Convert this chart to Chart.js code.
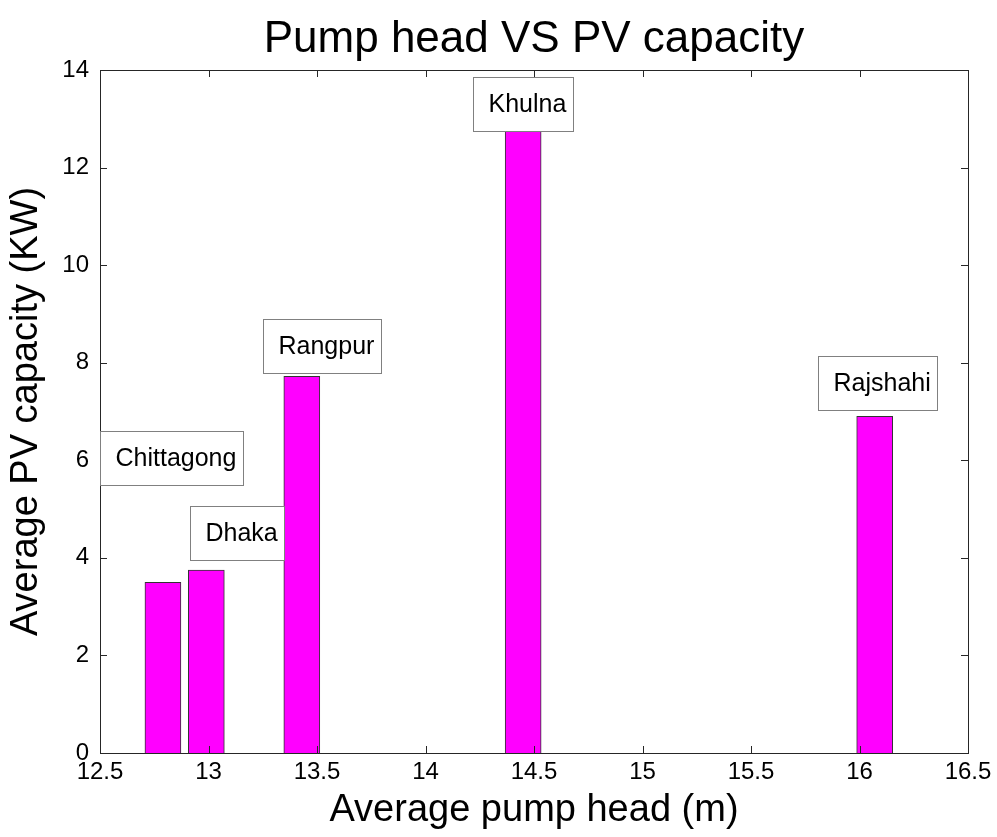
<!DOCTYPE html>
<html lang="en">
<head>
  <meta charset="UTF-8" />
  <title>Pump head VS PV capacity</title>
  <style>
    body { margin: 0; background: #fff; }
    canvas { display: block; }
  </style>
</head>
<body>
  <canvas id="chart" width="997" height="837"></canvas>

  <script src="https://cdn.jsdelivr.net/npm/chart.js"></script>
  <script>
    // data
    const sites = ['Chittagong', 'Dhaka', 'Rangpur', 'Khulna', 'Rajshahi'];
    const pumpHead = [12.79, 12.99, 13.43, 14.45, 16.07];
    const pvCapacity = [3.5, 3.75, 7.72, 12.97, 6.9];
    const xTicks = [12.5, 13, 13.5, 14, 14.5, 15, 15.5, 16, 16.5];
    const yTicks = [0, 2, 4, 6, 8, 10, 12, 14];
    const chartTitle = 'Pump head VS PV capacity';

    // where each text box sits (left edge, vertical middle), in data units
    const labelAt = {
      Chittagong: [12.5, 6.05],
      Dhaka: [12.915, 4.5],
      Rangpur: [13.25, 8.34],
      Khulna: [14.22, 13.3],
      Rajshahi: [15.81, 7.58]
    };

    const FONT = "'Liberation Sans', Arial, sans-serif";
    const AXIS = '#262626';

    // MATLAB style box with inward ticks on all four sides, title over the axes
    const frame = {
      id: 'frame',
      afterDatasetsDraw(chart) {
        const { ctx, chartArea: a, scales } = chart;
        ctx.save();
        ctx.strokeStyle = AXIS;
        ctx.lineWidth = 1;
        ctx.strokeRect(a.left + 0.5, a.top + 0.5, a.right - a.left, a.bottom - a.top);
        ctx.beginPath();
        xTicks.forEach(v => {
          const x = Math.round(scales.x.getPixelForValue(v)) + 0.5;
          ctx.moveTo(x, a.bottom); ctx.lineTo(x, a.bottom - 7);
          ctx.moveTo(x, a.top); ctx.lineTo(x, a.top + 7);
        });
        yTicks.forEach(v => {
          const y = Math.round(scales.y.getPixelForValue(v)) + 0.5;
          ctx.moveTo(a.left, y); ctx.lineTo(a.left + 7, y);
          ctx.moveTo(a.right, y); ctx.lineTo(a.right - 7, y);
        });
        ctx.stroke();

        ctx.fillStyle = '#000';
        ctx.font = '44px ' + FONT;
        ctx.textAlign = 'center';
        ctx.textBaseline = 'alphabetic';
        ctx.fillText(chartTitle, (a.left + a.right) / 2, 52);
        ctx.restore();
      }
    };

    const siteLabels = {
      id: 'siteLabels',
      afterDraw(chart) {
        const { ctx, scales } = chart;
        ctx.save();
        ctx.font = '25px ' + FONT;
        ctx.textBaseline = 'middle';
        sites.forEach(name => {
          const [lx, ly] = labelAt[name];
          const x = Math.round(scales.x.getPixelForValue(lx)) + 0.5;
          const y = scales.y.getPixelForValue(ly);
          const w = Math.round(ctx.measureText(name).width + 22);
          const h = 54;
          const top = Math.round(y - h / 2) + 0.5;
          ctx.fillStyle = '#fff';
          ctx.fillRect(x, top, w, h);
          ctx.strokeStyle = '#808080';
          ctx.lineWidth = 1;
          ctx.strokeRect(x, top, w, h);
          ctx.fillStyle = '#000';
          ctx.fillText(name, x + 15, y + 1);
        });
        ctx.restore();
      }
    };

    new Chart(document.getElementById('chart'), {
      type: 'bar',
      data: {
        datasets: [{
          data: pumpHead.map((x, i) => ({ x: x, y: pvCapacity[i] })),
          backgroundColor: '#ff00ff',
          borderColor: '#333333',
          borderWidth: 1,
          barThickness: 36
        }]
      },
      options: {
        responsive: false,
        animation: false,
        devicePixelRatio: 1,
        layout: { padding: { left: 0, right: 29, top: 70, bottom: 0 } },
        plugins: {
          legend: { display: false },
          tooltip: { enabled: false },
          title: { display: false }
        },
        scales: {
          x: {
            type: 'linear',
            min: 12.5,
            max: 16.5,
            offset: false,
            afterBuildTicks: s => { s.ticks = xTicks.map(v => ({ value: v })); },
            afterFit: s => { s.height = 84; },
            grid: { display: false, drawTicks: false },
            border: { display: false },
            ticks: {
              color: '#000',
              font: { family: FONT, size: 24 },
              padding: 5,
              maxRotation: 0,
              autoSkip: false,
              callback: v => String(v)
            },
            title: {
              display: true,
              text: 'Average pump head (m)',
              color: '#000',
              font: { family: FONT, size: 38 },
              padding: { top: 0, bottom: 4 }
            }
          },
          y: {
            min: 0,
            max: 14,
            afterBuildTicks: s => { s.ticks = yTicks.map(v => ({ value: v })); },
            afterFit: s => { s.width = 100; },
            grid: { display: false, drawTicks: false },
            border: { display: false },
            ticks: {
              color: '#000',
              font: { family: FONT, size: 24 },
              padding: 11,
              callback: v => String(v)
            },
            title: {
              display: true,
              text: 'Average PV capacity (KW)',
              color: '#000',
              font: { family: FONT, size: 38 },
              padding: { top: 4, bottom: 0 }
            }
          }
        }
      },
      plugins: [frame, siteLabels]
    });
  </script>
</body>
</html>
